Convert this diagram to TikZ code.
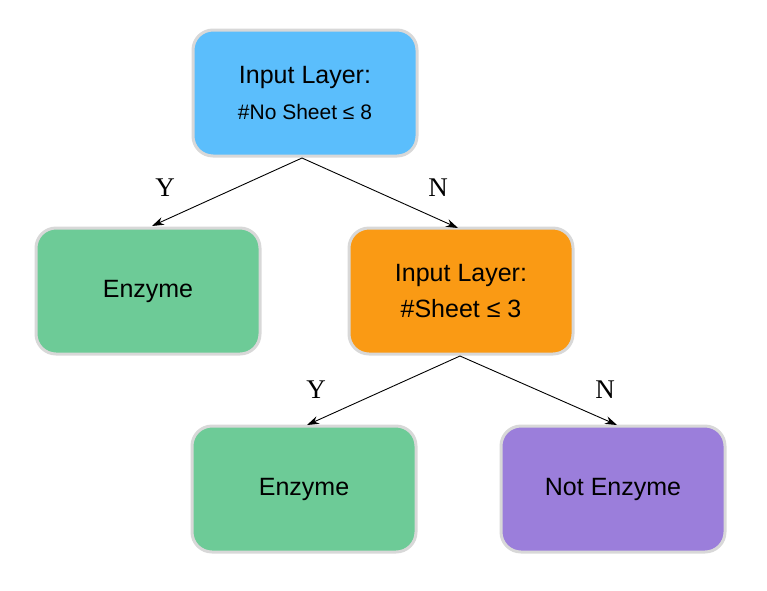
\documentclass[tikz,border=0pt]{standalone}
\usepackage{fontspec}
\setmainfont{Liberation Sans}
\newfontfamily\serifY{Liberation Serif}
\usetikzlibrary{arrows.meta}
\definecolor{cblue}{HTML}{5BBEFC}
\definecolor{cgreen}{HTML}{6DCB97}
\definecolor{corange}{HTML}{FA9A14}
\definecolor{cpurple}{HTML}{9B7EDB}
\definecolor{cborder}{HTML}{D8D8D8}
\begin{document}
\begin{tikzpicture}[x=1pt,y=-1pt,
  box/.style={draw=cborder,line width=3pt,rounded corners=20pt,minimum width=224pt,minimum height=126pt,align=center,font=\fontsize{25}{36}\selectfont,inner sep=0pt},
  arr/.style={-{Stealth[length=12pt,width=8pt]},line width=0.9pt},
  lab/.style={font=\serifY\fontsize{27}{30}\selectfont}]
\useasboundingbox (0,0) rectangle (767,590);
\node[box,fill=cblue] (root) at (305,93) {Input Layer:\\{\fontsize{21}{30}\selectfont\#No Sheet ≤ 8}};
\node[box,fill=cgreen] (e1) at (148,291) {Enzyme};
\node[box,fill=corange] (mid) at (461,291) {Input Layer:\\ \#Sheet ≤ 3};
\node[box,fill=cgreen] (e2) at (304,489) {Enzyme};
\node[box,fill=cpurple] (ne) at (613,489) {Not Enzyme};
\coordinate (r0) at (302,158);
\coordinate (m0) at (460,356);
\draw[arr] (r0) -- (152,226) coordinate (t1);
\draw[arr] (r0) -- (458,228) coordinate (t2);
\draw[arr] (m0) -- (307,425) coordinate (t3);
\draw[arr] (m0) -- (617,425) coordinate (t4);
\node[lab] (y1) at (165,188) {Y};
\node[lab] (n1) at (438,188) {N};
\node[lab] (y2) at (316,390) {Y};
\node[lab] (n2) at (605,390) {N};
\end{tikzpicture}
\end{document}
